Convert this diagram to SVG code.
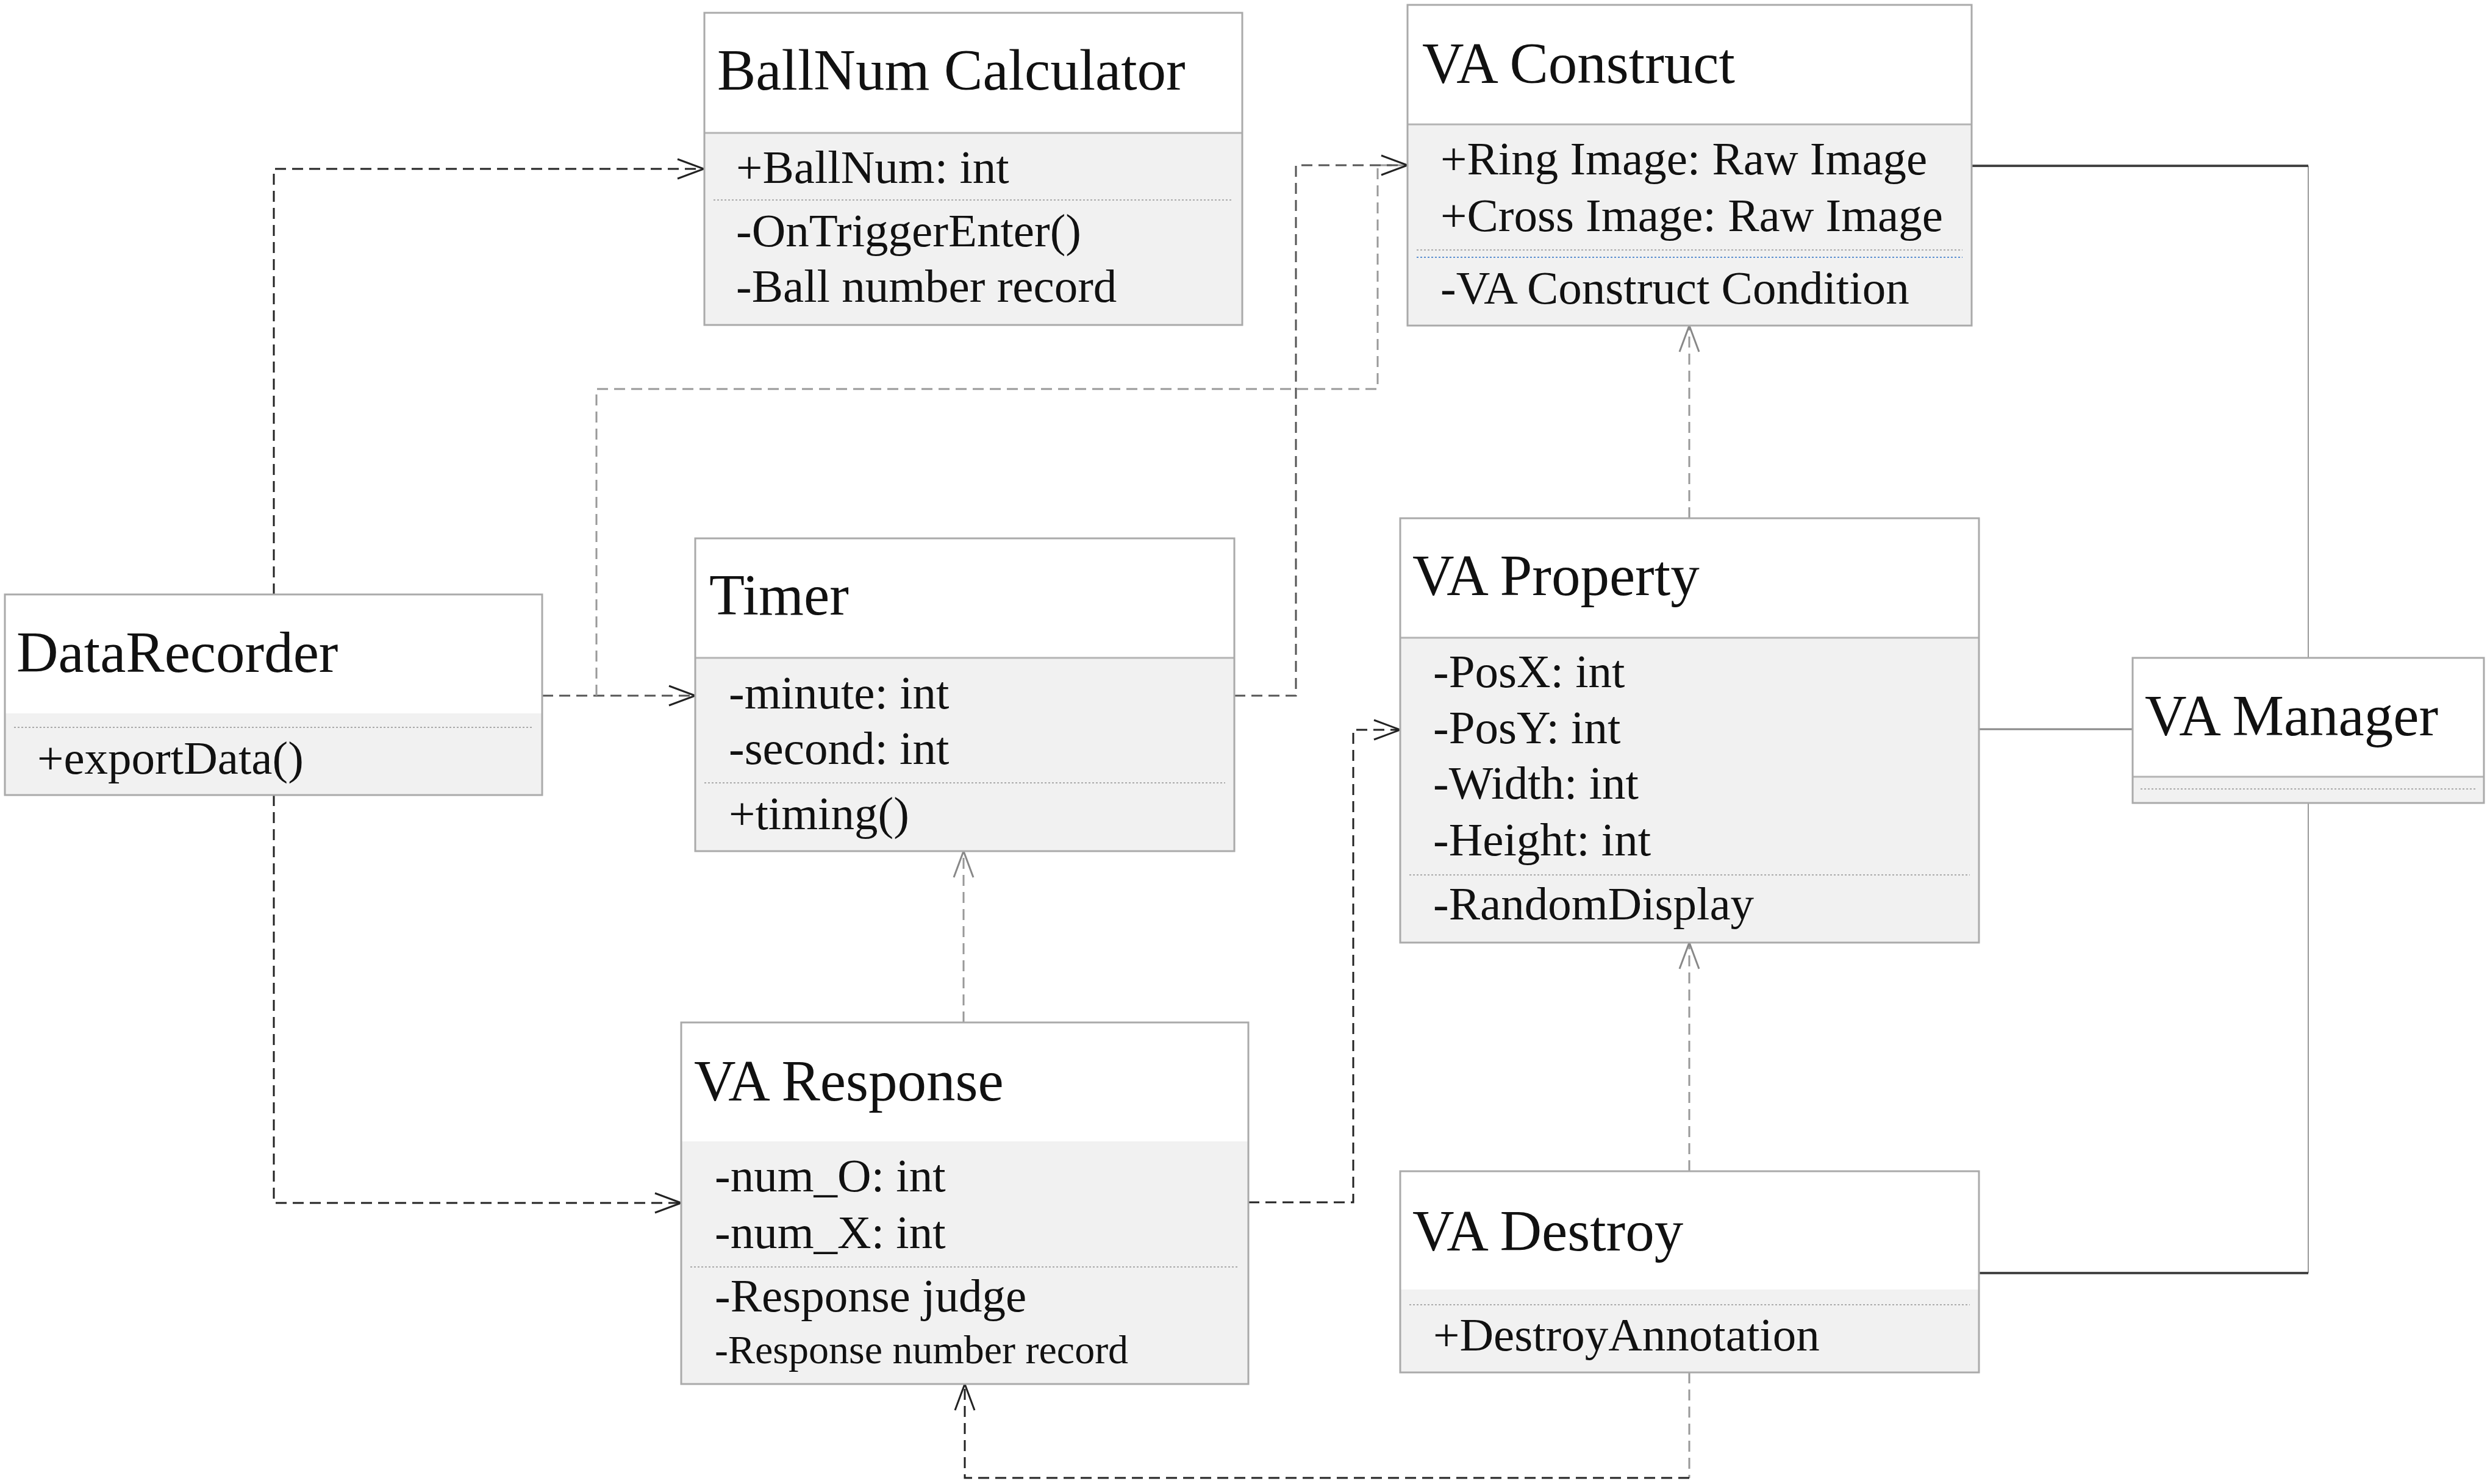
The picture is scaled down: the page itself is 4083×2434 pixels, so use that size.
<svg xmlns="http://www.w3.org/2000/svg" width="4083" height="2434" viewBox="0 0 4083 2434">
<style>
.hdr{fill:#ffffff;stroke:none}
.body{fill:#f1f1f1;stroke:none}
.frame{fill:none;stroke:#aaaaaa;stroke-width:3}
.hline{stroke:#b4b4b4;stroke-width:3}
.dot{stroke:#aaaaaa;stroke-width:2;stroke-dasharray:3 3}
.dotb{stroke:#5b8fd0;stroke-width:2;stroke-dasharray:3 3}
.t{font-family:"Liberation Serif","Times New Roman",serif;font-size:95px;fill:#111}
.a{font-family:"Liberation Serif","Times New Roman",serif;font-size:77px;fill:#111}
.s{font-family:"Liberation Serif","Times New Roman",serif;font-size:66px;fill:#111}
.dk{fill:none;stroke:#222;stroke-width:3;stroke-dasharray:18 10}
.gr{fill:none;stroke:#999;stroke-width:3;stroke-dasharray:18 10}
.md{fill:none;stroke:#555;stroke-width:3;stroke-dasharray:18 10}
.sol{fill:none;stroke:#444;stroke-width:4}
.solg{fill:none;stroke:#999;stroke-width:2}
</style>
<defs>
<marker id="arrK" viewBox="-50 -22 56 44" refX="0" refY="0" markerWidth="56" markerHeight="44" markerUnits="userSpaceOnUse" orient="auto">
<path d="M-43,-16 L0,0 L-43,16" fill="none" stroke="#222" stroke-width="3"/>
</marker>
<marker id="arrG" viewBox="-50 -22 56 44" refX="0" refY="0" markerWidth="56" markerHeight="44" markerUnits="userSpaceOnUse" orient="auto">
<path d="M-43,-16 L0,0 L-43,16" fill="none" stroke="#888" stroke-width="3"/>
</marker>
</defs>
<rect width="4083" height="2434" fill="#ffffff"/>
<g id="connectors">
<path class="dk" d="M449,975 V277 H1154" marker-end="url(#arrK)"/>
<path class="md" d="M889,1141 H1140" marker-end="url(#arrK)"/>
<path class="gr" d="M978,1141 V638 H2259 V271 H2308"/>
<path class="md" d="M2024,1141 H2125 V271 H2308" marker-end="url(#arrK)"/>
<path class="gr" d="M1580,1677 V1396" marker-end="url(#arrG)"/>
<path class="dk" d="M449,1304 V1973 H1117" marker-end="url(#arrK)"/>
<path class="dk" d="M2047,1972 H2219 V1197 H2296" marker-end="url(#arrK)"/>
<path class="gr" d="M2770,850 V534" marker-end="url(#arrG)"/>
<path class="gr" d="M2770,1921 V1546" marker-end="url(#arrG)"/>
<path class="gr" d="M2770,2251 V2424"/>
<path class="dk" d="M2770,2424 H1582 V2270" marker-end="url(#arrK)"/>
<path class="solg" d="M3785,272 V2088"/>
<path class="sol" d="M3233,272 H3785"/>
<path class="solg" style="stroke-width:3;stroke:#888" d="M3245,1196 H3497"/>
<path class="sol" d="M3245,2088 H3785"/>
</g>
<g id="ballnum-calculator">
<rect class="hdr" x="1155" y="21" width="882" height="197"/>
<rect class="body" x="1155" y="218" width="882" height="315"/>
<line class="hline" x1="1155" y1="218" x2="2037" y2="218"/>
<line class="dot" x1="1170" y1="328" x2="2022" y2="328"/>
<rect class="frame" x="1155" y="21" width="882" height="512"/>
<text class="t" x="1176" y="147">BallNum Calculator</text>
<text class="a" x="1207" y="300">+BallNum: int</text>
<text class="a" x="1207" y="404">-OnTriggerEnter()</text>
<text class="a" x="1207" y="495">-Ball number record</text>
</g>
<g id="va-construct">
<rect class="hdr" x="2308" y="8" width="925" height="196"/>
<rect class="body" x="2308" y="204" width="925" height="330"/>
<line class="hline" x1="2308" y1="204" x2="3233" y2="204"/>
<line class="dot" x1="2323" y1="410" x2="3218" y2="410"/>
<line class="dotb" x1="2323" y1="422" x2="3218" y2="422"/>
<rect class="frame" x="2308" y="8" width="925" height="526"/>
<text class="t" x="2332" y="136">VA Construct</text>
<text class="a" x="2362" y="286">+Ring Image: Raw Image</text>
<text class="a" x="2362" y="379">+Cross Image: Raw Image</text>
<text class="a" x="2362" y="498">-VA Construct Condition</text>
</g>
<g id="datarecorder">
<rect class="hdr" x="8" y="975" width="881" height="195"/>
<rect class="body" x="8" y="1170" width="881" height="134"/>
<line class="dot" x1="23" y1="1193" x2="874" y2="1193"/>
<rect class="frame" x="8" y="975" width="881" height="329"/>
<text class="t" x="27" y="1102">DataRecorder</text>
<text class="a" x="61" y="1269">+exportData()</text>
</g>
<g id="timer">
<rect class="hdr" x="1140" y="883" width="884" height="196"/>
<rect class="body" x="1140" y="1079" width="884" height="317"/>
<line class="hline" x1="1140" y1="1079" x2="2024" y2="1079"/>
<line class="dot" x1="1155" y1="1284" x2="2009" y2="1284"/>
<rect class="frame" x="1140" y="883" width="884" height="513"/>
<text class="t" x="1163" y="1008">Timer</text>
<text class="a" x="1195" y="1162">-minute: int</text>
<text class="a" x="1195" y="1253">-second: int</text>
<text class="a" x="1195" y="1360">+timing()</text>
</g>
<g id="va-property">
<rect class="hdr" x="2296" y="850" width="949" height="196"/>
<rect class="body" x="2296" y="1046" width="949" height="500"/>
<line class="hline" x1="2296" y1="1046" x2="3245" y2="1046"/>
<line class="dot" x1="2311" y1="1435" x2="3230" y2="1435"/>
<rect class="frame" x="2296" y="850" width="949" height="696"/>
<text class="t" x="2316" y="976">VA Property</text>
<text class="a" x="2350" y="1127">-PosX: int</text>
<text class="a" x="2350" y="1219">-PosY: int</text>
<text class="a" x="2350" y="1310">-Width: int</text>
<text class="a" x="2350" y="1403">-Height: int</text>
<text class="a" x="2350" y="1508">-RandomDisplay</text>
</g>
<g id="va-manager">
<rect class="hdr" x="3497" y="1079" width="576" height="195"/>
<rect class="body" x="3497" y="1274" width="576" height="43"/>
<line class="hline" x1="3497" y1="1274" x2="4073" y2="1274"/>
<line class="dot" x1="3510" y1="1294" x2="4060" y2="1294"/>
<rect class="frame" x="3497" y="1079" width="576" height="238"/>
<text class="t" x="3517" y="1206">VA Manager</text>
</g>
<g id="va-response">
<rect class="hdr" x="1117" y="1677" width="930" height="195"/>
<rect class="body" x="1117" y="1872" width="930" height="398"/>
<line class="dot" x1="1132" y1="2078" x2="2032" y2="2078"/>
<rect class="frame" x="1117" y="1677" width="930" height="593"/>
<text class="t" x="1138" y="1805">VA Response</text>
<text class="a" x="1172" y="1954">-num_O: int</text>
<text class="a" x="1172" y="2047">-num_X: int</text>
<text class="a" x="1172" y="2151">-Response judge</text>
<text class="s" x="1172" y="2236">-Response number record</text>
</g>
<g id="va-destroy">
<rect class="hdr" x="2296" y="1921" width="949" height="194"/>
<rect class="body" x="2296" y="2115" width="949" height="136"/>
<line class="dot" x1="2311" y1="2140" x2="3230" y2="2140"/>
<rect class="frame" x="2296" y="1921" width="949" height="330"/>
<text class="t" x="2316" y="2051">VA Destroy</text>
<text class="a" x="2350" y="2215">+DestroyAnnotation</text>
</g>
</svg>
